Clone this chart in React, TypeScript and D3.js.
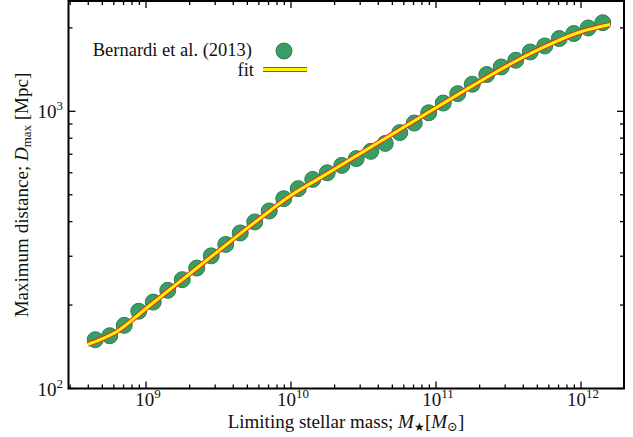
import React from "react";
import * as d3 from "d3";

// Limiting stellar mass, log10(M*/Msun), for each measured point
const massLog: number[] = [
  8.65, 8.75, 8.85, 8.95, 9.05, 9.15, 9.25, 9.35, 9.45, 9.55, 9.65, 9.75,
  9.85, 9.95, 10.05, 10.15, 10.25, 10.35, 10.45, 10.55, 10.65, 10.75, 10.85,
  10.95, 11.05, 11.15, 11.25, 11.35, 11.45, 11.55, 11.65, 11.75, 11.85, 11.95,
  12.05, 12.15,
];
// Maximum distance D_max [Mpc] (Bernardi et al. 2013)
const dMax: number[] = [
  150, 155, 169, 190, 205, 226, 247, 272, 301, 331, 364, 399, 437, 484, 526,
  568, 600, 638, 675, 717, 766, 838, 907, 988, 1071, 1158, 1252, 1357, 1445,
  1528, 1637, 1721, 1830, 1908, 1999, 2087,
];
// Fitted relation, sampled in log10 mass
const fitMassLog: number[] = [
  8.6, 8.8, 9.0, 9.2, 9.4, 9.6, 9.8, 10.0, 10.2, 10.4, 10.6, 10.8, 11.0, 11.2,
  11.4, 11.6, 11.8, 12.0, 12.2,
];
const fitD: number[] = [
  144.2, 160.6, 194.4, 235.4, 285.0, 345.1, 416.1, 497.6, 575.4, 665.6, 769.6,
  890.3, 1029.5, 1190.7, 1372, 1567, 1760, 1936, 2056,
];
const xTickExp: number[] = [9, 10, 11, 12];
const yTickExp: number[] = [2, 3];

const W = 633;
const H = 437;
const left = 68.5;
const right = 624;
const top = 1;
const bottom = 388.5;
const FONT = "'Liberation Serif', 'DejaVu Serif', serif";

export default function App() {
  const x = d3
    .scaleLog()
    .domain([Math.pow(10, 8.4655), Math.pow(10, 12.2966)])
    .range([left, right]);
  const y = d3.scaleLog().domain([100, 2500]).range([bottom, top]);

  const [x0, x1] = x.domain();
  const [y0, y1] = y.domain();

  // decade and minor ticks
  const xTicks: { v: number; major: boolean }[] = [];
  for (let e = 8; e <= 12; e++) {
    for (let m = 1; m <= 9; m++) {
      const v = m * Math.pow(10, e);
      if (v >= x0 && v <= x1) xTicks.push({ v, major: m === 1 });
    }
  }
  const yTicks: { v: number; major: boolean }[] = [];
  for (let e = 2; e <= 3; e++) {
    for (let m = 1; m <= 9; m++) {
      const v = m * Math.pow(10, e);
      if (v >= y0 && v <= y1) yTicks.push({ v, major: m === 1 });
    }
  }

  const fitLine = d3
    .line<number>()
    .x((_, i) => x(Math.pow(10, fitMassLog[i])))
    .y((d) => y(d))
    .curve(d3.curveCatmullRom.alpha(0.5));
  const fitPath = fitLine(fitD) || "";

  const majorLen = 7;
  const minorLen = 4;
  const ptFill = "#3a9e64";
  const ptStroke = "#2b7f4e";
  const r = 8;
  const red = "#ea2a1c";
  const yellow = "#fff200";

  return (
    <svg
      width={W}
      height={H}
      style={{ position: "absolute", left: 0, top: 0, background: "#fff" }}
      fontFamily={FONT}
    >
      <rect x={0} y={0} width={W} height={H} fill="#fff" />

      {/* measured points */}
      <g>
        {dMax.map((d, i) => (
          <circle
            key={i}
            cx={x(Math.pow(10, massLog[i]))}
            cy={y(d)}
            r={r}
            fill={ptFill}
            stroke={ptStroke}
            strokeWidth={1}
          />
        ))}
      </g>
      {/* fitted relation over the points */}
      <path d={fitPath} fill="none" stroke={red} strokeWidth={5} />
      <path d={fitPath} fill="none" stroke={yellow} strokeWidth={3} />

      {/* ticks on all four sides, pointing inward */}
      <g stroke="#000" strokeWidth={1.3}>
        {xTicks.map((t, i) => {
          const px = x(t.v);
          const len = t.major ? majorLen : minorLen;
          return (
            <g key={"x" + i}>
              <line x1={px} x2={px} y1={bottom} y2={bottom - len} />
              <line x1={px} x2={px} y1={top} y2={top + len} />
            </g>
          );
        })}
        {yTicks.map((t, i) => {
          const py = y(t.v);
          const len = t.major ? majorLen : minorLen;
          return (
            <g key={"y" + i}>
              <line x1={left} x2={left + len} y1={py} y2={py} />
              <line x1={right} x2={right - len} y1={py} y2={py} />
            </g>
          );
        })}
      </g>

      {/* frame */}
      <rect
        x={left}
        y={top}
        width={right - left}
        height={bottom - top}
        fill="none"
        stroke="#000"
        strokeWidth={2}
      />

      {/* x tick labels */}
      <g fontSize={19} fill="#111">
        {xTickExp.map((e) => (
          <text key={e} x={x(Math.pow(10, e)) + 2} y={406} textAnchor="middle">
            10
            <tspan fontSize={13} dy={-8}>
              {e}
            </tspan>
          </text>
        ))}
      </g>
      {/* y tick labels */}
      <g fontSize={19} fill="#111">
        {yTickExp.map((e) => (
          <text key={e} x={63} y={y(Math.pow(10, e)) + 7} textAnchor="end">
            10
            <tspan fontSize={13} dy={-8}>
              {e}
            </tspan>
          </text>
        ))}
      </g>

      {/* axis titles */}
      <text x={346} y={428} textAnchor="middle" fontSize={19} fill="#111">
        Limiting stellar mass;{" "}
        <tspan fontStyle="italic">M</tspan>
        <tspan fontSize={12} dy={3}>★</tspan>
        <tspan dy={-3}>[</tspan>
        <tspan fontStyle="italic">M</tspan>
        <tspan fontSize={13} dy={3}>⊙</tspan>
        <tspan dy={-3}>]</tspan>
      </text>
      <text
        transform={`translate(28, 195) rotate(-90)`}
        textAnchor="middle"
        fontSize={19}
        fill="#111"
      >
        Maximum distance;{" "}
        <tspan fontStyle="italic">D</tspan>
        <tspan fontSize={13} dy={3}>max</tspan>
        <tspan dy={-3}> [Mpc]</tspan>
      </text>

      {/* legend */}
      <text x={252} y={55.5} textAnchor="end" fontSize={18.5} fill="#111">
        Bernardi et al. (2013)
      </text>
      <circle cx={284} cy={51} r={r} fill={ptFill} stroke={ptStroke} strokeWidth={1} />
      <text x={254} y={75.5} textAnchor="end" fontSize={18.5} fill="#111">
        fit
      </text>
      <line x1={263} x2={307} y1={69.5} y2={69.5} stroke={red} strokeWidth={5} />
      <line x1={263} x2={307} y1={69.5} y2={69.5} stroke={yellow} strokeWidth={3} />
    </svg>
  );
}
